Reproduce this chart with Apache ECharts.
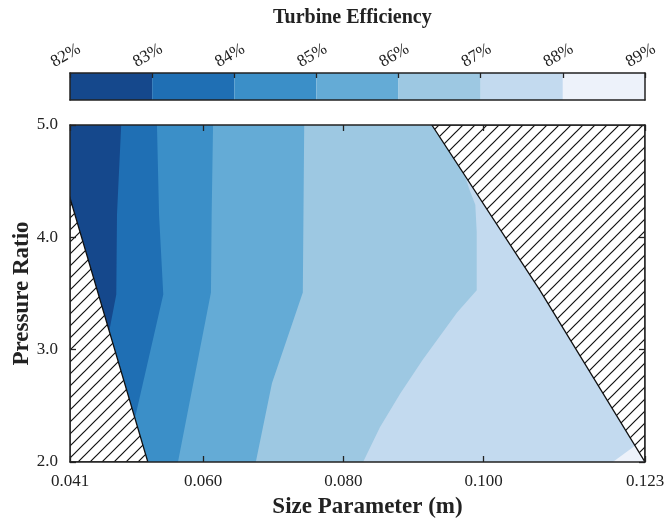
<!DOCTYPE html>
<html><head><meta charset="utf-8">
<script src="https://cdn.jsdelivr.net/npm/echarts@6/dist/echarts.min.js"></script>
<style>html,body{margin:0;padding:0;background:#fff}#c{width:664px;height:520px}</style>
</head><body><div id="c"></div>
<script>
// ---- data ----
const levels = [82, 83, 84, 85, 86, 87, 88, 89];
const levelColors = ['#15488c', '#1f6fb4', '#3b8fc8', '#64abd6', '#9dc8e2', '#c3daef', '#edf2fa'];
const xTicks = [0.041, 0.060, 0.080, 0.100, 0.123];
const yTicks = [2.0, 3.0, 4.0, 5.0];
const XMIN = 0.041, XMAX = 0.123, YMIN = 2.0, YMAX = 5.0;

// contour lines [size, pressure ratio] (efficiency boundaries)
const contour83 = [[0.0483, 5.0], [0.0477, 4.20], [0.0476, 3.49], [0.0467, 3.20], [0.0431, 2.0]];
const contour84 = [[0.0534, 5.0], [0.0537, 4.20], [0.0543, 3.49], [0.0503, 2.40], [0.0481, 2.0]];
const contour85 = [[0.0614, 5.0], [0.0612, 4.20], [0.0611, 3.51], [0.0564, 2.0]];
const contour86 = [[0.0744, 5.0], [0.0742, 3.51], [0.0698, 2.70], [0.0675, 2.0]];
const contour87 = [[0.0966, 5.0], [0.0973, 4.55], [0.0980, 4.42], [0.0988, 4.29], [0.0990, 4.05], [0.0990, 3.53],
                   [0.0962, 3.33], [0.0913, 2.91], [0.0881, 2.61], [0.0852, 2.31], [0.0828, 2.0]];
const contour88 = [[0.1184, 2.0], [0.1230, 2.21]];

// infeasible (hatched) regions
const leftInfeasible = [[0.041, 4.35], [0.0521, 2.0], [0.041, 2.0]];
const rightInfeasible = [[0.0926, 5.0], [0.1080, 3.53], [0.1230, 2.0], [0.1230, 5.0]];

// ---- build fill regions ----
function closeRegion(line) {
  const last = line[line.length - 1];
  if (last[0] === XMAX) return line.concat([[XMAX, YMIN]]);
  return line.concat([[XMAX, YMIN], [XMAX, YMAX]]);
}
const regions = [
  [[XMIN, YMIN], [XMIN, YMAX], [XMAX, YMAX], [XMAX, YMIN]],
  closeRegion(contour83), closeRegion(contour84), closeRegion(contour85),
  closeRegion(contour86), closeRegion(contour87), closeRegion(contour88)
];
const hatchRegions = [leftInfeasible, rightInfeasible];

function hatchCanvas() {
  const s = 12, c = document.createElement('canvas');
  c.width = s; c.height = s;
  const g = c.getContext('2d');
  g.fillStyle = '#fff'; g.fillRect(0, 0, s, s);
  g.strokeStyle = '#111'; g.lineWidth = 1.2;
  g.beginPath();
  g.moveTo(-2, s + 2); g.lineTo(s + 2, -2);
  g.moveTo(-2, 2); g.lineTo(2, -2);
  g.moveTo(s - 2, s + 2); g.lineTo(s + 2, s - 2);
  g.stroke();
  return c;
}
const hatchPattern = { image: hatchCanvas(), repeat: 'repeat' };

const SERIF = "'Liberation Serif', 'DejaVu Serif', serif";
const TXT = '#222';
const lineStyle = { color: '#222', width: 1.5 };
const tickStyle = { color: '#222', width: 1.3 };

const chart = echarts.init(document.getElementById('c'), null, { renderer: 'canvas' });
chart.setOption({
  animation: false,
  backgroundColor: '#fff',
  title: {
    text: 'Turbine Efficiency', left: 268, top: 3,
    textStyle: { fontFamily: SERIF, fontSize: 20, fontWeight: 'bold', color: TXT }
  },
  grid: [
    { left: 70, right: 19, top: 125, bottom: 58, containLabel: false, outerBoundsMode: 'none' },
    { left: 70, right: 19, top: 73, height: 27, containLabel: false, outerBoundsMode: 'none' }
  ],
  xAxis: [
    {
      gridIndex: 0, type: 'value', position: 'bottom', min: XMIN, max: XMAX, z: 10,
      axisLine: { show: true, onZero: false, lineStyle },
      axisTick: { show: true, inside: true, length: 6, customValues: xTicks, lineStyle: tickStyle },
      axisLabel: { customValues: xTicks, formatter: v => v.toFixed(3), margin: 11, fontFamily: SERIF, fontSize: 17, color: TXT },
      splitLine: { show: false },
      name: 'Size Parameter (m)', nameLocation: 'middle', nameGap: 34,
      nameTextStyle: { fontFamily: SERIF, fontSize: 23, fontWeight: 'bold', color: TXT, padding: [0, 0, 0, 20] }
    },
    {
      gridIndex: 0, type: 'value', position: 'top', min: XMIN, max: XMAX, z: 10,
      axisLine: { show: true, onZero: false, lineStyle },
      axisTick: { show: true, inside: true, length: 6, customValues: xTicks, lineStyle: tickStyle },
      axisLabel: { show: false }, splitLine: { show: false }
    },
    {
      gridIndex: 1, type: 'value', position: 'top', min: 82, max: 89, interval: 1, z: 10,
      axisLine: { show: true, onZero: false, lineStyle },
      axisTick: { show: true, inside: true, length: 5, lineStyle: tickStyle },
      axisLabel: {
        formatter: '{value}%', rotate: -30, margin: 10, align: 'center', verticalAlign: 'bottom',
        showMinLabel: true, showMaxLabel: true,
        fontFamily: SERIF, fontSize: 17, color: TXT
      },
      splitLine: { show: false }
    },
    {
      gridIndex: 1, type: 'value', position: 'bottom', min: 82, max: 89, z: 10,
      axisLine: { show: true, onZero: false, lineStyle },
      axisTick: { show: false }, axisLabel: { show: false }, splitLine: { show: false }
    }
  ],
  yAxis: [
    {
      gridIndex: 0, type: 'value', position: 'left', min: YMIN, max: YMAX, interval: 1, z: 10,
      axisLine: { show: true, onZero: false, lineStyle },
      axisTick: { show: true, inside: true, length: 6, lineStyle: tickStyle },
      axisLabel: { formatter: v => v.toFixed(1), margin: 12, fontFamily: SERIF, fontSize: 17, color: TXT },
      splitLine: { show: false },
      name: 'Pressure Ratio', nameLocation: 'middle', nameGap: 36, nameRotate: 90, nameMoveOverlap: false,
      nameTextStyle: { fontFamily: SERIF, fontSize: 23, fontWeight: 'bold', color: TXT }
    },
    {
      gridIndex: 0, type: 'value', position: 'right', min: YMIN, max: YMAX, interval: 1, z: 10,
      axisLine: { show: true, onZero: false, lineStyle },
      axisTick: { show: true, inside: true, length: 6, lineStyle: tickStyle },
      axisLabel: { show: false }, splitLine: { show: false }
    },
    {
      gridIndex: 1, type: 'value', position: 'left', min: 0, max: 1, z: 10,
      axisLine: { show: true, onZero: false, lineStyle },
      axisTick: { show: false }, axisLabel: { show: false }, splitLine: { show: false }
    },
    {
      gridIndex: 1, type: 'value', position: 'right', min: 0, max: 1, z: 10,
      axisLine: { show: true, onZero: false, lineStyle },
      axisTick: { show: false }, axisLabel: { show: false }, splitLine: { show: false }
    }
  ],
  series: [
    {
      type: 'custom', xAxisIndex: 0, yAxisIndex: 0, clip: true, silent: true, z: 1,
      data: regions.map(r => r[0]),
      renderItem: (params, api) => {
        const pts = regions[params.dataIndex].map(p => api.coord(p));
        return { type: 'polygon', shape: { points: pts }, style: { fill: levelColors[params.dataIndex] } };
      }
    },
    {
      type: 'custom', xAxisIndex: 0, yAxisIndex: 0, clip: true, silent: true, z: 2,
      data: hatchRegions.map(r => r[0]),
      renderItem: (params, api) => {
        const pts = hatchRegions[params.dataIndex].map(p => api.coord(p));
        return { type: 'polygon', shape: { points: pts }, style: { fill: hatchPattern, stroke: '#111', lineWidth: 1.3 } };
      }
    },
    {
      type: 'custom', xAxisIndex: 2, yAxisIndex: 2, silent: true, z: 1,
      data: levels.slice(0, -1).map((v, i) => [v, levels[i + 1]]),
      encode: { x: [0, 1] },
      renderItem: (params, api) => {
        const p0 = api.coord([api.value(0), 0]);
        const p1 = api.coord([api.value(1), 1]);
        return {
          type: 'rect',
          shape: { x: p0[0], y: p1[1], width: p1[0] - p0[0], height: p0[1] - p1[1] },
          style: { fill: levelColors[params.dataIndex] }
        };
      }
    }
  ]
});
</script>
</body></html>
